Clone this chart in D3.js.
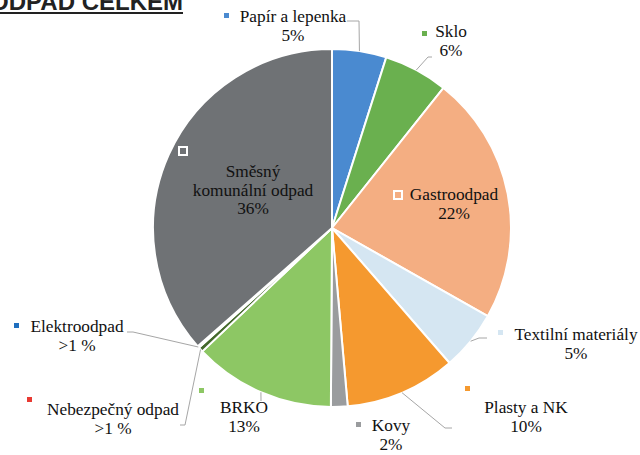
<!DOCTYPE html>
<html>
<head>
<meta charset="utf-8">
<script src="https://d3js.org/d3.v7.min.js"></script>
<style>
  body { margin: 0; background: #fff; }
  svg { display: block; }
  .lbl { font-family: "Liberation Serif", "Times New Roman", serif; font-size: 17.3px; fill: #111; }
</style>
</head>
<body>
<div id="chart"></div>
<script>
// slices, clockwise from 12 o'clock
var categories = ["Papír a lepenka", "Sklo", "Gastroodpad", "Textilní materiály", "Plasty a NK",
                  "Kovy", "BRKO", "Nebezpečný odpad", "Elektroodpad", "Směsný komunální odpad"];
var values = [4.9, 5.8, 22.5, 5.4, 10.0, 1.5, 12.8, 0.45, 0.15, 36.5];
var pctLabels = ["5%", "6%", "22%", "5%", "10%", "2%", "13%", ">1 %", ">1 %", "36%"];
var sliceColors = ["#4a8ad0", "#6ab04f", "#f4ae82", "#d5e6f2", "#f5992f",
                   "#9a9c9e", "#8dc764", "#44692c", "#3b72b5", "#6f7275"];
var markerColors = ["#4a8ad0", "#6ab04f", "none", "#d5e6f2", "#f5992f",
                    "#9a9c9e", "#8dc764", "#e83a32", "#1f6fbf", "none"];

var width = 640, height = 455;
var cx = 332, cy = 228, radius = 179;

var svg = d3.select("#chart").append("svg")
    .attr("width", width)
    .attr("height", height);

// title, clipped at the left edge like the original
svg.append("text")
    .attr("x", 183)
    .attr("y", 10)
    .attr("text-anchor", "end")
    .style("font-family", "'Liberation Sans', Arial, sans-serif")
    .style("font-weight", "bold")
    .style("font-size", "24px")
    .style("fill", "#222")
    .text("ODPAD CELKEM");
svg.append("rect").attr("x", 0).attr("y", 12).attr("width", 183).attr("height", 2).attr("fill", "#222");

var pie = d3.pie().sort(null).value(function(d) { return d; });
var arcs = pie(values);
var arc = d3.arc().innerRadius(0).outerRadius(radius);

var g = svg.append("g").attr("transform", "translate(" + cx + "," + cy + ")");

g.selectAll("path")
    .data(arcs)
    .enter()
    .append("path")
    .attr("d", arc)
    .attr("fill", function(d, i) { return sliceColors[i]; })
    .attr("stroke", "#fff")
    .attr("stroke-width", 2);

// label layout: text centre, first baseline, marker box, leader start / elbow
var layout = [
  {x: 293, y: 22, lines: ["Papír a lepenka"], m: [224, 13, 5], lead: [[347, 21], [359, 21]]},
  {x: 451, y: 37, lines: ["Sklo"], m: [422, 31, 5], lead: [[432, 57], [428, 57]]},
  {x: 454, y: 200, lines: ["Gastroodpad"], m: [394, 191, 8], inside: true},
  {x: 576, y: 340, lines: ["Textilní materiály"], m: [498, 330, 5], lead: [[487, 338], [479, 338]]},
  {x: 526, y: 413, lines: ["Plasty a NK"], m: [465, 386, 5], lead: [[452, 428], [445, 428]]},
  {x: 391, y: 431, lines: ["Kovy"], m: [356, 422, 5]},
  {x: 244, y: 413, lines: ["BRKO"], m: [199, 388, 5], lead: [[261, 401]]},
  {x: 113, y: 415, lines: ["Nebezpečný odpad"], m: [27, 397, 5], lead: [[180, 425], [185, 425]]},
  {x: 77, y: 332, lines: ["Elektroodpad"], m: [14, 323, 5], lead: [[127, 332], [133, 332]]},
  {x: 253, y: 177, lines: ["Směsný", "komunální odpad"], m: [179, 147, 8], inside: true}
];

// leader lines to the slice edge at its mid angle
layout.forEach(function(L, i) {
  if (!L.lead) return;
  var a = (arcs[i].startAngle + arcs[i].endAngle) / 2;
  var edge = [cx + radius * Math.sin(a), cy - radius * Math.cos(a)];
  var pts = L.lead.concat([edge]);
  svg.append("path")
      .attr("d", d3.line()(pts))
      .attr("fill", "none")
      .attr("stroke", "#a6a6a6")
      .attr("stroke-width", 1);
});

layout.forEach(function(L, i) {
  var t = svg.append("text")
      .attr("class", "lbl")
      .attr("text-anchor", "middle");
  var lines = L.lines.concat([pctLabels[i]]);
  lines.forEach(function(s, k) {
    t.append("tspan").attr("x", L.x).attr("y", L.y + k * 18.5).text(s);
  });
  if (L.inside) {
    svg.append("rect")
        .attr("x", L.m[0]).attr("y", L.m[1])
        .attr("width", L.m[2]).attr("height", L.m[2])
        .attr("fill", "none")
        .attr("stroke", "#fff")
        .attr("stroke-width", 2);
  } else {
    svg.append("rect")
        .attr("x", L.m[0]).attr("y", L.m[1])
        .attr("width", L.m[2]).attr("height", L.m[2])
        .attr("fill", markerColors[i]);
  }
});
</script>
</body>
</html>
